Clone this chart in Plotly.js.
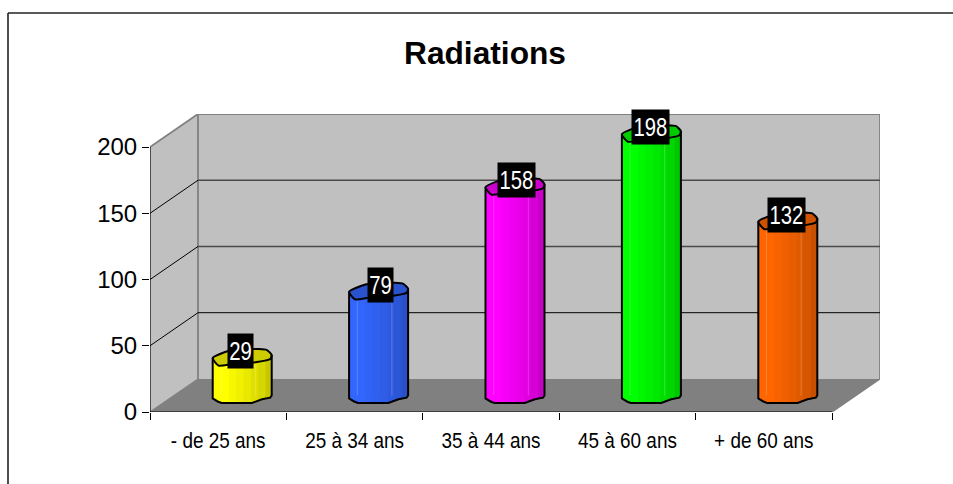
<!DOCTYPE html>
<html>
<head>
<meta charset="utf-8">
<script src="https://cdn.plot.ly/plotly-3.0.1.min.js"></script>
<style>html,body{margin:0;padding:0;background:#fff;overflow:hidden}</style>
</head>
<body>
<div id="chart" style="width:953px;height:484px"></div>
<script>
const categories = ['- de 25 ans', '25 à 34 ans', '35 à 44 ans', '45 à 60 ans', '+ de 60 ans'];
const values = [29, 79, 158, 198, 132];
const columnColors = [[255,255,0], [51,102,255], [255,0,255], [0,255,0], [255,102,0]];
const yTicks = [0, 50, 100, 150, 200];

const W = 953, H = 484;
const pxX = 136.4, pxY = 1.3215;                      // px per category, px per value unit
const depthX = 48 / pxX, depthY = 33 / pxY;           // chart depth, in axis units
const M = {l:150, r:W-150-pxX*categories.length-48, t:114, b:72};
const plotW = W - M.l - M.r, plotH = H - M.t - M.b;
const midX = depthX / 2, midY = depthY / 2;           // columns stand mid-depth
const halfW = 29.5 / pxX;                             // column half width
const labelNudge = [-2, 2, 1, -1, -1];                // px, label placement seen in the original

// hand-drawn look of the 3D column's ends: [fraction of half width, px from centre, y down]
const backRim  = [[-1,1],[-.58,-5],[-.3,-7],[.56,-8],[.84,-7],[1,-2]];
const frontRim = [[1,-2],[.95,2],[.5,5],[-.35,7],[-.8,8.5],[-1,1]];
const baseRim  = [[-1,0],[-1,3],[-.83,6],[-.7,7.5],[.33,7.5],[.67,3.8],[.95,2.2],[1,0]];
const bands = [[-1,-.72,1],[-.72,-.45,1],[-.45,-.2,.97],[-.2,.05,.94],[.05,.3,.91],[.3,.52,.88],[.52,.78,.84],[.78,1,.78]];
const shade = (c,f) => 'rgb(' + c.map(v => Math.round(v*f)).join(',') + ')';
const rimAt = f => { for (let k=1;k<baseRim.length;k++){ const a=baseRim[k-1], b=baseRim[k]; if (f<=b[0] && b[0]>a[0]) return a[1]+(b[1]-a[1])*(f-a[0])/(b[0]-a[0]); } return 0; };

const traces = [];
// backing bar so no wall shows through between the shading bands
traces.push({
  type:'bar', x:categories, y:values, base:values.map(()=>midY),
  width:values.map(()=>2*halfW), offset:values.map(()=>midX - halfW),
  marker:{color:columnColors.map(c=>shade(c,.92)), line:{width:0}},
  hoverinfo:'skip', showlegend:false
});
// body of each column: real bars, one per shading band
bands.forEach(b => traces.push({
  type:'bar', x:categories, y:values, base:values.map(()=>midY),
  width:values.map(()=>(b[1]-b[0])*halfW),
  offset:values.map(()=>midX + b[0]*halfW),
  marker:{color:columnColors.map(c=>shade(c,b[2])), line:{width:0}},
  hoverinfo:'skip', showlegend:false
}));
values.forEach((v,i) => {
  const cx = i + midX, c = columnColors[i];
  // rounded foot, band by band
  bands.forEach(b => {
    const xs=[], ys=[];
    const fs = [b[0]].concat(baseRim.map(p=>p[0]).filter(f=>f>b[0]&&f<b[1]), [b[1]]);
    fs.forEach(f => {xs.push(cx+f*halfW); ys.push(midY - rimAt(f)/pxY);});
    xs.push(cx+b[1]*halfW, cx+b[0]*halfW); ys.push(midY, midY);
    traces.push({type:'scatter', xaxis:'x2', x:xs, y:ys, mode:'lines', fill:'toself', fillcolor:shade(c,b[2]),
      line:{width:1,color:shade(c,b[2])}, hoverinfo:'skip', showlegend:false});
  });
  // faint highlights
  const top = midY + v;
  traces.push({type:'scatter', xaxis:'x2', x:[cx-.72*halfW,cx-.72*halfW,null,cx+.45*halfW,cx+.45*halfW],
    y:[top,midY,null,top,midY], mode:'lines', line:{width:1,color:'rgba(255,255,255,0.2)'},
    hoverinfo:'skip', showlegend:false});
  // top face
  const ring = backRim.concat(frontRim.slice(1));
  traces.push({type:'scatter', xaxis:'x2', x:ring.map(p=>cx+p[0]*halfW), y:ring.map(p=>top-p[1]/pxY), mode:'lines',
    fill:'toself', fillcolor:shade(c,.8), line:{width:2,color:'#000',shape:'spline',smoothing:.6}, hoverinfo:'skip', showlegend:false});
  // silhouette: sides and foot
  const outline = [[-1,top-1/pxY]].concat(baseRim.map(p=>[p[0], midY-p[1]/pxY]), [[1,top+2/pxY]]);
  traces.push({type:'scatter', xaxis:'x2', x:outline.map(p=>cx+p[0]*halfW), y:outline.map(p=>p[1]), mode:'lines',
    line:{width:2,color:'#000'}, hoverinfo:'skip', showlegend:false});
});

const L0 = -0.5, L1 = categories.length - 0.5;
const poly = (pts, fill, line) => ({type:'path', layer:'below', xref:'x2', yref:'y',
  path:'M' + pts.map(p=>p[0]+','+p[1]).join(' L') + ' Z', fillcolor:fill, line:line||{width:0}});
const seg = (x0,y0,x1,y1,color,width) => ({type:'line', layer:'below', xref:'x2', yref:'y', x0,y0,x1,y1, line:{color,width}});
const shapes = [
  poly([[L0+depthX,depthY],[L1+depthX,depthY],[L1+depthX,200+depthY],[L0+depthX,200+depthY]], '#c0c0c0'),
  poly([[L0,0],[L0+depthX,depthY],[L0+depthX,200+depthY],[L0,200]], '#c0c0c0'),
  poly([[L0,0],[L1,0],[L1+depthX,depthY],[L0+depthX,depthY]], '#808080'),
  seg(L0,200,L0+depthX,200+depthY,'#808080',1.8),
  seg(L0+depthX,200+depthY,L1+depthX,200+depthY,'#808080',1.8),
  seg(L1+depthX,200+depthY,L1+depthX,depthY,'#808080',1.8),
  seg(L0+depthX,depthY,L0+depthX,200+depthY,'#808080',1.8),
  seg(L1,0,L1+depthX,depthY,'#808080',1.4),
  seg(L0,0,L0+depthX,depthY,'#808080',1.2)
];
yTicks.slice(1,4).forEach(t => {
  const col = t===50 ? '#000' : '#4a4a4a', w = t===50 ? 1 : 1.4;
  shapes.push(seg(L0,t,L0+depthX,t+depthY,'#000',1));
  shapes.push(seg(L0+depthX,t+depthY,L1+depthX,t+depthY,col,w));
});
// axis lines stop at the front edge of the box
shapes.push(seg(L0,0,L0,200,'#000',1.2));
shapes.push(seg(L0,0,L1,0,'#000',1.2));
// outer frame: only the top and left edges show
shapes.push({type:'line', xref:'paper', yref:'paper', layer:'above',
  x0:(8-M.l)/plotW, x1:(W-M.l)/plotW, y0:1+(M.t-13)/plotH, y1:1+(M.t-13)/plotH, line:{color:'#222',width:1.6}});
shapes.push({type:'line', xref:'paper', yref:'paper', layer:'above',
  x0:(8-M.l)/plotW, x1:(8-M.l)/plotW, y0:1+(M.t-13)/plotH, y1:-M.b/plotH, line:{color:'#222',width:1.6}});

const annotations = values.map((v,i) => ({
  xref:'x2', yref:'y', x:i+midX, y:midY+v, yshift:6, xshift:labelNudge[i], xanchor:'center', yanchor:'middle',
  text:String(v), showarrow:false, bgcolor:'#000', borderpad:0,
  width:String(v).length===3 ? 37 : 25, height:34, align:'center', valign:'middle',
  font:{family:'"Liberation Sans", Arial, sans-serif', size:26, color:'#fff'}
}));

const layout = {
  width:W, height:H, autosize:false, margin:M, paper_bgcolor:'#fff', plot_bgcolor:'rgba(0,0,0,0)',
  showlegend:false, barmode:'overlay', hovermode:false,
  title:{text:'Radiations', x:(404+566)/2/W, xanchor:'center', y:1-53/H, yanchor:'middle',
         font:{family:'"Liberation Sans", Arial, sans-serif', size:31.7, color:'#000', weight:700}},
  xaxis:{type:'category', range:[L0,L1+depthX], categoryorder:'array', categoryarray:categories, tickson:'boundaries', fixedrange:true,
    ticks:'outside', ticklen:7, tickwidth:1, tickcolor:'#000', showline:false, showgrid:false, zeroline:false, ticklabelstandoff:13,
    tickfont:{family:'"Liberation Sans", Arial, sans-serif', size:22, color:'#000'}},
  xaxis2:{type:'linear', overlaying:'x', range:[L0,L1+depthX], visible:false, fixedrange:true},
  yaxis:{range:[0,200+depthY], tickvals:yTicks, ticks:'outside', ticklen:7, tickwidth:1, tickcolor:'#000', showline:false,
    showgrid:false, zeroline:false, fixedrange:true,
    tickfont:{family:'"Liberation Sans", Arial, sans-serif', size:24, color:'#000'}},
  shapes, annotations
};
// The original's small labels are condensed: squeeze the real text horizontally.
const condense = (sel, ratio) => document.querySelectorAll(sel).forEach(t => {
  const w = t.getComputedTextLength();
  t.setAttribute('textLength', (w*ratio).toFixed(1));
  t.setAttribute('lengthAdjust', 'spacingAndGlyphs');
});
Plotly.newPlot('chart', traces, layout, {displayModeBar:false, staticPlot:true}).then(() => {
  condense('.xtick text', 0.86);
  condense('.annotation-text', 0.78);
});
</script>
</body>
</html>
